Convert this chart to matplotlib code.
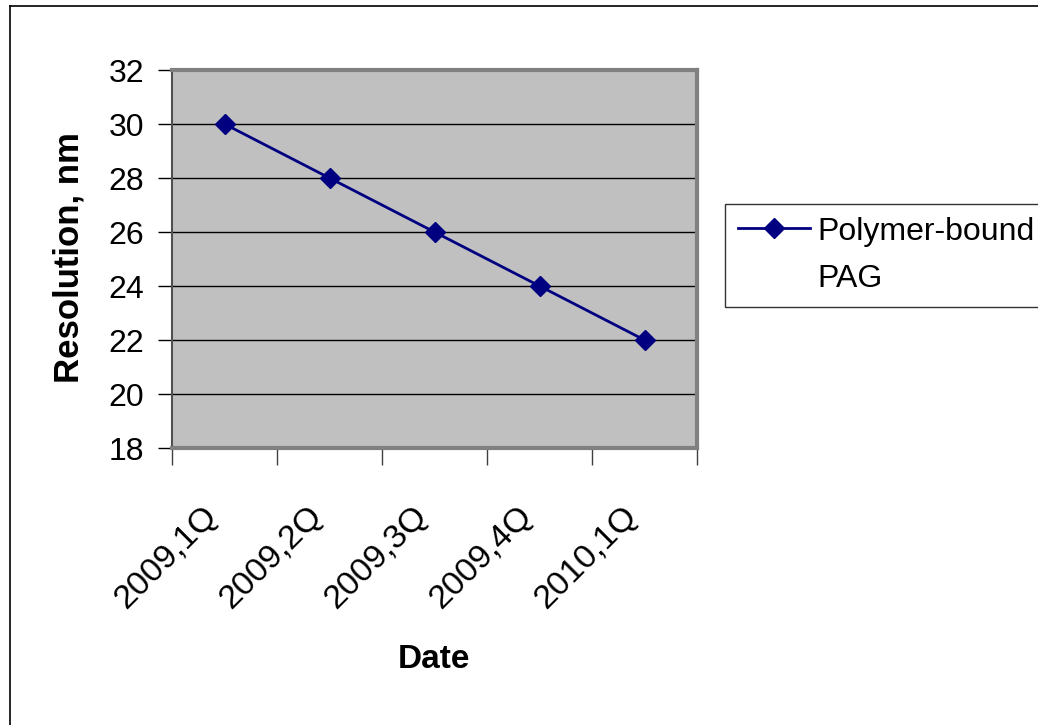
import matplotlib
matplotlib.use("Agg")
import matplotlib.pyplot as plt
import matplotlib.transforms as mtransforms
from matplotlib.lines import Line2D

plt.rcParams['font.family'] = ['Liberation Sans', 'DejaVu Sans']

quarters = ["2009,1Q", "2009,2Q", "2009,3Q", "2009,4Q", "2010,1Q"]
resolution_nm = [30, 28, 26, 24, 22]
series_name = "Polymer-bound\nPAG"
y_ticks = [18, 20, 22, 24, 26, 28, 30, 32]

W, H = 1038, 725
fig = plt.figure(figsize=(W / 100, H / 100), dpi=100)

# outer chart frame (left and top edges visible)
fig.add_artist(Line2D([10 / W, 10 / W], [0, 1 - 6 / H], color="black", lw=1.2,
                      transform=fig.transFigure))
fig.add_artist(Line2D([10 / W, 1], [1 - 6 / H, 1 - 6 / H], color="black", lw=1.2,
                      transform=fig.transFigure))

left, right, top, bottom = 172, 697, 70, 448
ax = fig.add_axes([left / W, 1 - bottom / H, (right - left) / W, (bottom - top) / H])
ax.set_facecolor("#C0C0C0")

x = list(range(len(quarters)))
ax.plot(x, resolution_nm, color="#000080", lw=2, marker="D", markersize=10,
        markerfacecolor="#000080", markeredgecolor="#000080",
        label=series_name, zorder=3)

ax.set_xlim(-0.5, len(quarters) - 0.5)
ax.set_ylim(18, 32)
ax.set_yticks(y_ticks)
ax.set_yticklabels([str(t) for t in y_ticks], fontsize=23)
ax.yaxis.grid(True, color="black", lw=1)
ax.set_axisbelow(True)

# category boundary ticks; rotated labels placed under each category
ax.set_xticks([i - 0.5 for i in range(len(quarters) + 1)])
ax.set_xticklabels([])
ax.tick_params(axis="x", direction="out", length=12, width=1, color="#404040")
ax.tick_params(axis="y", direction="out", length=10, width=1, color="black", pad=10)
offset = mtransforms.ScaledTranslation(0, -0.52, fig.dpi_scale_trans)
for i, q in enumerate(quarters):
    ax.text(i - 0.22, 18, q, rotation=45, ha="right", va="top",
            rotation_mode="anchor", fontsize=24.5,
            transform=ax.transData + offset)

for s in ["top", "right", "bottom"]:
    ax.spines[s].set_color("#808080")
    ax.spines[s].set_linewidth(3)
ax.spines["left"].set_color("#505050")
ax.spines["left"].set_linewidth(1.5)

fig.text(69 / W, 1 - 258 / H, "Resolution, nm", rotation=90, ha="center", va="center",
         fontsize=25, fontweight="bold")
fig.text(434 / W, 1 - 660 / H, "Date", ha="center", va="center",
         fontsize=24, fontweight="bold")

leg = fig.legend(loc="upper left", bbox_to_anchor=(725 / W, 1 - 204 / H),
                 fontsize=23, frameon=True, fancybox=False, edgecolor="black",
                 handlelength=2.25, handletextpad=0.25, borderpad=0.4,
                 borderaxespad=0)
leg.get_frame().set_linewidth(1)
for t in leg.get_texts():
    t.set_linespacing(1.75)
# keep the legend marker level with the first line of the label
for column in leg._legend_handle_box.get_children():
    for row in column.get_children():
        row.align = "top"

fig.savefig("out.png", dpi=100)
